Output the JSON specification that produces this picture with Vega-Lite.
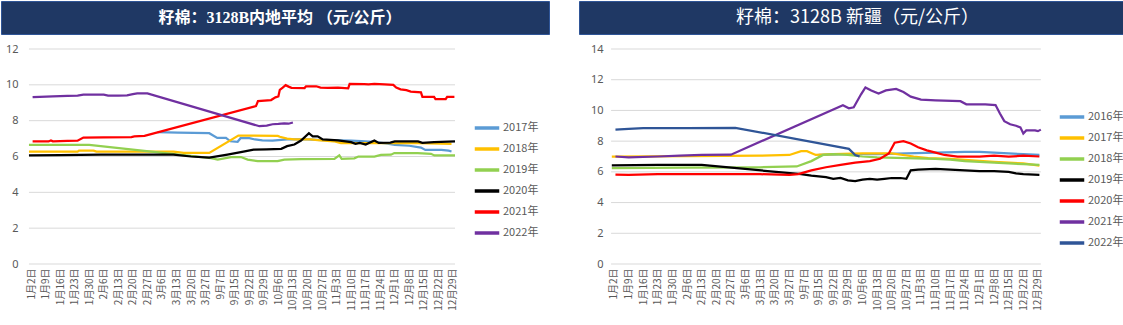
{
  "$schema": "https://vega.github.io/schema/vega-lite/v6.json",
  "padding": 0,
  "background": "white",
  "config": {
    "view": {"stroke": null},
    "font": "Noto Sans",
    "axisX": {"labelAngle": -90, "grid": false, "domain": false, "ticks": false, "labelFontSize": 10, "labelColor": "#595959", "labelFont": "Noto Sans CJK SC", "labelPadding": 4, "title": null, "labelOverlap": false},
    "axisY": {"grid": false, "domain": false, "ticks": false, "labelFontSize": 11, "labelColor": "#595959", "title": null, "labelAlign": "right", "minExtent": 0, "maxExtent": 0},
    "legend": {"title": null, "orient": "none", "padding": 0, "symbolType": "stroke", "symbolStrokeWidth": 3.5, "symbolSize": 600, "rowPadding": -3.5, "labelFontSize": 11, "labelColor": "#595959", "labelFont": "Noto Sans CJK SC", "labelOffset": 2}
  },
  "datasets": {
    "left": [
      {"s":"2017年","t":8.7,"v":7.36},{"s":"2017年","t":10.1,"v":7.33},{"s":"2017年","t":12.25,"v":7.3},{"s":"2017年","t":12.8,"v":7.04},{"s":"2017年","t":13.4,"v":7.04},{"s":"2017年","t":13.7,"v":6.85},{"s":"2017年","t":14.2,"v":6.82},{"s":"2017年","t":14.4,"v":7.02},{"s":"2017年","t":15.0,"v":7.02},{"s":"2017年","t":15.4,"v":6.95},{"s":"2017年","t":15.9,"v":6.9},{"s":"2017年","t":16.6,"v":6.88},{"s":"2017年","t":17.2,"v":6.93},{"s":"2017年","t":17.6,"v":6.95},{"s":"2017年","t":19,"v":6.95},{"s":"2017年","t":20,"v":6.92},{"s":"2017年","t":21,"v":6.9},{"s":"2017年","t":22,"v":6.88},{"s":"2017年","t":22.7,"v":6.86},{"s":"2017年","t":23.5,"v":6.82},{"s":"2017年","t":24.5,"v":6.72},{"s":"2017年","t":25,"v":6.65},{"s":"2017年","t":26,"v":6.6},{"s":"2017年","t":26.8,"v":6.5},{"s":"2017年","t":27.1,"v":6.37},{"s":"2017年","t":28.2,"v":6.37},{"s":"2017年","t":28.7,"v":6.33},{"s":"2017年","t":28.9,"v":6.28},
      {"s":"2018年","t":-0.14,"v":6.27},{"s":"2018年","t":3.2,"v":6.27},{"s":"2018年","t":3.3,"v":6.33},{"s":"2018年","t":4.3,"v":6.33},{"s":"2018年","t":4.5,"v":6.27},{"s":"2018年","t":9.8,"v":6.27},{"s":"2018年","t":10.5,"v":6.2},{"s":"2018年","t":12.25,"v":6.2},{"s":"2018年","t":14.25,"v":7.17},{"s":"2018年","t":16.96,"v":7.15},{"s":"2018年","t":17.1,"v":7.1},{"s":"2018年","t":17.6,"v":7.0},{"s":"2018年","t":18.1,"v":6.95},{"s":"2018年","t":19.2,"v":6.95},{"s":"2018年","t":19.7,"v":6.92},{"s":"2018年","t":20.8,"v":6.85},{"s":"2018年","t":21.3,"v":6.75},{"s":"2018年","t":26.6,"v":6.75},{"s":"2018年","t":28.9,"v":6.7},
      {"s":"2019年","t":-0.14,"v":6.65},{"s":"2019年","t":4.0,"v":6.65},{"s":"2019年","t":12.37,"v":5.91},{"s":"2019年","t":12.83,"v":5.83},{"s":"2019年","t":13.75,"v":5.97},{"s":"2019年","t":14.43,"v":5.97},{"s":"2019年","t":14.89,"v":5.83},{"s":"2019年","t":15.58,"v":5.74},{"s":"2019年","t":16.95,"v":5.74},{"s":"2019年","t":17.41,"v":5.83},{"s":"2019年","t":18.56,"v":5.85},{"s":"2019年","t":20.85,"v":5.87},{"s":"2019年","t":21.19,"v":6.06},{"s":"2019年","t":21.35,"v":5.87},{"s":"2019年","t":22.22,"v":5.9},{"s":"2019年","t":22.5,"v":6.0},{"s":"2019年","t":23.6,"v":6.0},{"s":"2019年","t":24.05,"v":6.09},{"s":"2019年","t":24.74,"v":6.1},{"s":"2019年","t":24.97,"v":6.19},{"s":"2019年","t":26.57,"v":6.19},{"s":"2019年","t":27.49,"v":6.15},{"s":"2019年","t":27.72,"v":6.06},{"s":"2019年","t":29.14,"v":6.06},
      {"s":"2020年","t":-0.14,"v":6.06},{"s":"2020年","t":2,"v":6.08},{"s":"2020年","t":4.8,"v":6.1},{"s":"2020年","t":7,"v":6.1},{"s":"2020年","t":9.8,"v":6.1},{"s":"2020年","t":11,"v":6.0},{"s":"2020年","t":12.25,"v":5.94},{"s":"2020年","t":13.5,"v":6.11},{"s":"2020年","t":14.6,"v":6.27},{"s":"2020年","t":15.3,"v":6.38},{"s":"2020年","t":16.2,"v":6.4},{"s":"2020年","t":17.2,"v":6.43},{"s":"2020年","t":17.6,"v":6.58},{"s":"2020年","t":18.1,"v":6.67},{"s":"2020年","t":18.56,"v":6.89},{"s":"2020年","t":19.1,"v":7.3},{"s":"2020年","t":19.36,"v":7.13},{"s":"2020年","t":19.7,"v":7.13},{"s":"2020年","t":20.05,"v":6.95},{"s":"2020年","t":21.1,"v":6.9},{"s":"2020年","t":22.0,"v":6.8},{"s":"2020年","t":22.3,"v":6.71},{"s":"2020年","t":22.6,"v":6.76},{"s":"2020年","t":23.0,"v":6.67},{"s":"2020年","t":23.6,"v":6.89},{"s":"2020年","t":23.9,"v":6.76},{"s":"2020年","t":24.7,"v":6.77},{"s":"2020年","t":25.0,"v":6.84},{"s":"2020年","t":26.6,"v":6.84},{"s":"2020年","t":26.9,"v":6.76},{"s":"2020年","t":27.7,"v":6.8},{"s":"2020年","t":29.14,"v":6.84},
      {"s":"2021年","t":0.11,"v":6.84},{"s":"2021年","t":1.2,"v":6.84},{"s":"2021年","t":1.37,"v":6.9},{"s":"2021年","t":1.5,"v":6.85},{"s":"2021年","t":2.5,"v":6.87},{"s":"2021年","t":3.2,"v":6.88},{"s":"2021年","t":3.6,"v":7.06},{"s":"2021年","t":5.0,"v":7.07},{"s":"2021年","t":6.9,"v":7.08},{"s":"2021年","t":7.1,"v":7.12},{"s":"2021年","t":7.8,"v":7.15},{"s":"2021年","t":15.46,"v":8.81},{"s":"2021年","t":15.6,"v":9.09},{"s":"2021年","t":16.5,"v":9.15},{"s":"2021年","t":16.8,"v":9.3},{"s":"2021年","t":17.0,"v":9.35},{"s":"2021年","t":17.1,"v":9.72},{"s":"2021年","t":17.3,"v":9.85},{"s":"2021年","t":17.5,"v":9.98},{"s":"2021年","t":17.7,"v":9.9},{"s":"2021年","t":17.9,"v":9.83},{"s":"2021年","t":18.8,"v":9.82},{"s":"2021年","t":18.9,"v":9.92},{"s":"2021年","t":19.6,"v":9.92},{"s":"2021年","t":19.9,"v":9.85},{"s":"2021年","t":20.4,"v":9.83},{"s":"2021年","t":21.1,"v":9.84},{"s":"2021年","t":21.8,"v":9.8},{"s":"2021年","t":21.9,"v":10.05},{"s":"2021年","t":22.9,"v":10.04},{"s":"2021年","t":23.2,"v":10.02},{"s":"2021年","t":23.6,"v":10.05},{"s":"2021年","t":24.3,"v":10.02},{"s":"2021年","t":24.9,"v":10.0},{"s":"2021年","t":25.1,"v":9.85},{"s":"2021年","t":25.4,"v":9.75},{"s":"2021年","t":25.8,"v":9.7},{"s":"2021年","t":26.1,"v":9.62},{"s":"2021年","t":26.8,"v":9.58},{"s":"2021年","t":26.9,"v":9.33},{"s":"2021年","t":27.7,"v":9.33},{"s":"2021年","t":27.8,"v":9.2},{"s":"2021年","t":28.5,"v":9.2},{"s":"2021年","t":28.6,"v":9.33},{"s":"2021年","t":29.1,"v":9.33},
      {"s":"2022年","t":0.11,"v":9.31},{"s":"2022年","t":0.6,"v":9.33},{"s":"2022年","t":1.5,"v":9.36},{"s":"2022年","t":2.5,"v":9.38},{"s":"2022年","t":3.2,"v":9.4},{"s":"2022年","t":3.6,"v":9.45},{"s":"2022年","t":4.5,"v":9.46},{"s":"2022年","t":5.0,"v":9.45},{"s":"2022年","t":5.3,"v":9.4},{"s":"2022年","t":6.0,"v":9.4},{"s":"2022年","t":6.6,"v":9.41},{"s":"2022年","t":7.0,"v":9.48},{"s":"2022年","t":7.3,"v":9.52},{"s":"2022年","t":8.0,"v":9.52},{"s":"2022年","t":15.7,"v":7.69},{"s":"2022年","t":16.2,"v":7.72},{"s":"2022年","t":16.6,"v":7.8},{"s":"2022年","t":17.0,"v":7.82},{"s":"2022年","t":17.4,"v":7.85},{"s":"2022年","t":17.7,"v":7.83},{"s":"2022年","t":18.0,"v":7.9}
    ],
    "right": [
      {"s":"2016年","t":14.0,"v":7.1},{"s":"2016年","t":16,"v":7.15},{"s":"2016年","t":18,"v":7.15},{"s":"2016年","t":20,"v":7.2},{"s":"2016年","t":22,"v":7.25},{"s":"2016年","t":24,"v":7.3},{"s":"2016年","t":25,"v":7.3},{"s":"2016年","t":26,"v":7.25},{"s":"2016年","t":27,"v":7.2},{"s":"2016年","t":28,"v":7.15},{"s":"2016年","t":29.1,"v":7.1},
      {"s":"2017年","t":-0.15,"v":7.0},{"s":"2017年","t":5,"v":7.02},{"s":"2017年","t":10,"v":7.05},{"s":"2017年","t":12,"v":7.1},{"s":"2017年","t":12.8,"v":7.35},{"s":"2017年","t":13.2,"v":7.35},{"s":"2017年","t":13.8,"v":7.1},{"s":"2017年","t":15,"v":7.15},{"s":"2017年","t":17,"v":7.2},{"s":"2017年","t":19,"v":7.2},{"s":"2017年","t":20.5,"v":7.0},{"s":"2017年","t":21.5,"v":6.9},{"s":"2017年","t":23,"v":6.85},{"s":"2017年","t":24.5,"v":6.75},{"s":"2017年","t":26,"v":6.65},{"s":"2017年","t":27,"v":6.6},{"s":"2017年","t":28,"v":6.55},{"s":"2017年","t":29.1,"v":6.4},
      {"s":"2018年","t":-0.15,"v":6.25},{"s":"2018年","t":5,"v":6.28},{"s":"2018年","t":10,"v":6.3},{"s":"2018年","t":12.5,"v":6.35},{"s":"2018年","t":13.5,"v":6.7},{"s":"2018年","t":14.3,"v":7.1},{"s":"2018年","t":15,"v":7.15},{"s":"2018年","t":16,"v":7.1},{"s":"2018年","t":17,"v":7.0},{"s":"2018年","t":18,"v":6.95},{"s":"2018年","t":20,"v":6.9},{"s":"2018年","t":22,"v":6.85},{"s":"2018年","t":23,"v":6.8},{"s":"2018年","t":24,"v":6.7},{"s":"2018年","t":25,"v":6.65},{"s":"2018年","t":26,"v":6.6},{"s":"2018年","t":27,"v":6.55},{"s":"2018年","t":28,"v":6.5},{"s":"2018年","t":29.1,"v":6.45},
      {"s":"2019年","t":-0.15,"v":6.42},{"s":"2019年","t":3,"v":6.45},{"s":"2019年","t":6,"v":6.45},{"s":"2019年","t":12.8,"v":5.85},{"s":"2019年","t":13.5,"v":5.75},{"s":"2019年","t":14.5,"v":5.65},{"s":"2019年","t":15,"v":5.55},{"s":"2019年","t":15.5,"v":5.6},{"s":"2019年","t":16,"v":5.45},{"s":"2019年","t":16.5,"v":5.4},{"s":"2019年","t":17,"v":5.5},{"s":"2019年","t":17.5,"v":5.55},{"s":"2019年","t":18,"v":5.5},{"s":"2019年","t":18.5,"v":5.55},{"s":"2019年","t":19,"v":5.6},{"s":"2019年","t":19.6,"v":5.6},{"s":"2019年","t":20,"v":5.55},{"s":"2019年","t":20.3,"v":6.1},{"s":"2019年","t":20.8,"v":6.15},{"s":"2019年","t":22,"v":6.2},{"s":"2019年","t":23,"v":6.15},{"s":"2019年","t":24,"v":6.1},{"s":"2019年","t":25,"v":6.05},{"s":"2019年","t":26,"v":6.05},{"s":"2019年","t":27,"v":6.0},{"s":"2019年","t":27.5,"v":5.9},{"s":"2019年","t":28,"v":5.85},{"s":"2019年","t":29.1,"v":5.8},
      {"s":"2020年","t":0.1,"v":5.82},{"s":"2020年","t":1,"v":5.8},{"s":"2020年","t":3,"v":5.85},{"s":"2020年","t":6,"v":5.85},{"s":"2020年","t":10,"v":5.85},{"s":"2020年","t":12,"v":5.8},{"s":"2020年","t":12.6,"v":5.85},{"s":"2020年","t":13.5,"v":6.1},{"s":"2020年","t":14.5,"v":6.3},{"s":"2020年","t":15.5,"v":6.45},{"s":"2020年","t":16.5,"v":6.6},{"s":"2020年","t":17.5,"v":6.7},{"s":"2020年","t":18.2,"v":6.85},{"s":"2020年","t":18.8,"v":7.2},{"s":"2020年","t":19.2,"v":7.9},{"s":"2020年","t":19.8,"v":8.0},{"s":"2020年","t":20.3,"v":7.85},{"s":"2020年","t":20.8,"v":7.6},{"s":"2020年","t":21.4,"v":7.4},{"s":"2020年","t":22,"v":7.25},{"s":"2020年","t":22.6,"v":7.1},{"s":"2020年","t":23.5,"v":7.0},{"s":"2020年","t":25,"v":7.0},{"s":"2020年","t":26,"v":7.05},{"s":"2020年","t":27,"v":7.0},{"s":"2020年","t":28,"v":7.05},{"s":"2020年","t":29.1,"v":7.0},
      {"s":"2021年","t":0.1,"v":7.0},{"s":"2021年","t":1,"v":6.95},{"s":"2021年","t":3,"v":7.0},{"s":"2021年","t":4.5,"v":7.05},{"s":"2021年","t":6,"v":7.1},{"s":"2021年","t":8,"v":7.12},{"s":"2021年","t":15.66,"v":10.34},{"s":"2021年","t":16.07,"v":10.14},{"s":"2021年","t":16.4,"v":10.2},{"s":"2021年","t":16.9,"v":11.05},{"s":"2021年","t":17.2,"v":11.5},{"s":"2021年","t":17.6,"v":11.3},{"s":"2021年","t":18.1,"v":11.1},{"s":"2021年","t":18.6,"v":11.3},{"s":"2021年","t":19.3,"v":11.4},{"s":"2021年","t":19.8,"v":11.2},{"s":"2021年","t":20.3,"v":10.9},{"s":"2021年","t":21,"v":10.7},{"s":"2021年","t":22,"v":10.66},{"s":"2021年","t":23.7,"v":10.6},{"s":"2021年","t":24.1,"v":10.4},{"s":"2021年","t":25.4,"v":10.4},{"s":"2021年","t":26.1,"v":10.35},{"s":"2021年","t":26.4,"v":9.8},{"s":"2021年","t":26.7,"v":9.3},{"s":"2021年","t":27.1,"v":9.1},{"s":"2021年","t":27.5,"v":9.0},{"s":"2021年","t":27.8,"v":8.9},{"s":"2021年","t":28.0,"v":8.5},{"s":"2021年","t":28.2,"v":8.7},{"s":"2021年","t":28.8,"v":8.7},{"s":"2021年","t":29.0,"v":8.65},{"s":"2021年","t":29.2,"v":8.75},
      {"s":"2022年","t":0.1,"v":8.75},{"s":"2022年","t":1,"v":8.8},{"s":"2022年","t":2,"v":8.85},{"s":"2022年","t":5,"v":8.85},{"s":"2022年","t":8.3,"v":8.87},{"s":"2022年","t":16.07,"v":7.5},{"s":"2022年","t":16.5,"v":7.1},{"s":"2022年","t":16.8,"v":7.0}
    ]
  },
  "spacing": 8,
  "vconcat": [
    {
      "bounds": "flush",
      "spacing": 30,
      "hconcat": [
        {
          "width": 548, "height": 33,
          "view": {"fill": "#1F3864", "stroke": "#2F5597"},
          "data": {"values": [{"title": "籽棉：3128B内地平均 （元/公斤）"}]},
          "mark": {"type": "text", "color": "white", "fontSize": 16, "font": "Liberation Serif, Noto Sans CJK SC", "fontWeight": "bold", "dx": 5},
          "encoding": {"text": {"field": "title", "type": "nominal"}}
        },
        {
          "width": 545, "height": 33,
          "view": {"fill": "#1F3864", "stroke": "#2F5597"},
          "data": {"values": [{"title": "籽棉：3128B 新疆（元/公斤）"}]},
          "mark": {"type": "text", "color": "white", "fontSize": 18, "font": "Noto Sans CJK SC", "fontWeight": "normal", "dx": 6},
          "encoding": {"text": {"field": "title", "type": "nominal"}}
        }
      ]
    },
    {
      "bounds": "flush",
      "spacing": 124,
      "resolve": {"scale": {"color": "independent"}, "legend": {"color": "independent"}},
      "hconcat": [
        {
          "width": 454, "height": 215,
          "layer": [
            {
              "data": {"values": [{"g":0},{"g":2},{"g":4},{"g":6},{"g":8},{"g":10},{"g":12}]},
              "mark": {"type": "rule", "color": "#D9D9D9", "strokeWidth": 1},
              "encoding": {
                "y": {"field": "g", "type": "quantitative",
                  "axis": {"values": [0,2,4,6,8,10,12], "labelPadding": -17}},
                "x": {"datum": -0.14, "type": "quantitative",
                  "axis": {"values": [0,1,2,3,4,5,6,7,8,9,10,11,12,13,14,15,16,17,18,19,20,21,22,23,24,25,26,27,28,29],
                    "labelExpr": "['1月2日','1月9日','1月16日','1月23日','1月30日','2月6日','2月13日','2月20日','2月27日','3月6日','3月13日','3月20日','3月27日','9月7日','9月15日','9月22日','9月29日','10月6日','10月13日','10月20日','10月27日','11月3日','11月10日','11月17日','11月24日','12月1日','12月8日','12月15日','12月22日','12月29日'][datum.value]"}},
                "x2": {"datum": 29.14}
              }
            },
            {
              "data": {"name": "left"},
              "mark": {"type": "line", "strokeWidth": 2.25},
              "encoding": {
                "x": {"field": "t", "type": "quantitative",
                  "scale": {"domain": [-2.062, 29.14], "nice": false, "zero": false},
                  "axis": {"values": [0,1,2,3,4,5,6,7,8,9,10,11,12,13,14,15,16,17,18,19,20,21,22,23,24,25,26,27,28,29],
                    "labelExpr": "['1月2日','1月9日','1月16日','1月23日','1月30日','2月6日','2月13日','2月20日','2月27日','3月6日','3月13日','3月20日','3月27日','9月7日','9月15日','9月22日','9月29日','10月6日','10月13日','10月20日','10月27日','11月3日','11月10日','11月17日','11月24日','12月1日','12月8日','12月15日','12月22日','12月29日'][datum.value]"}},
                "y": {"field": "v", "type": "quantitative",
                  "scale": {"domain": [0, 12], "nice": false},
                  "axis": {"values": [0,2,4,6,8,10,12], "labelPadding": -17}},
                "color": {"field": "s", "type": "nominal",
                  "scale": {"domain": ["2017年","2018年","2019年","2020年","2021年","2022年"], "range": ["#5B9BD5","#FFC000","#92D050","#000000","#FF0000","#7030A0"]},
                  "legend": {"legendX": 472, "legendY": 65}}
              }
            }
          ]
        },
        {
          "width": 462, "height": 215,
          "layer": [
            {
              "data": {"values": [{"g":0},{"g":2},{"g":4},{"g":6},{"g":8},{"g":10},{"g":12},{"g":14}]},
              "mark": {"type": "rule", "color": "#D9D9D9", "strokeWidth": 1},
              "encoding": {
                "y": {"field": "g", "type": "quantitative",
                  "axis": {"values": [0,2,4,6,8,10,12,14], "labelPadding": -24}},
                "x": {"datum": -0.2, "type": "quantitative",
                  "axis": {"values": [0,1,2,3,4,5,6,7,8,9,10,11,12,13,14,15,16,17,18,19,20,21,22,23,24,25,26,27,28,29],
                    "labelExpr": "['1月2日','1月9日','1月16日','1月23日','1月30日','2月6日','2月13日','2月20日','2月27日','3月6日','3月13日','3月20日','3月27日','9月7日','9月15日','9月22日','9月29日','10月6日','10月13日','10月20日','10月27日','11月3日','11月10日','11月17日','11月24日','12月1日','12月8日','12月15日','12月22日','12月29日'][datum.value]"}},
                "x2": {"datum": 29.2}
              }
            },
            {
              "data": {"name": "right"},
              "mark": {"type": "line", "strokeWidth": 2.25},
              "encoding": {
                "x": {"field": "t", "type": "quantitative",
                  "scale": {"domain": [-2.394, 29.21], "nice": false, "zero": false},
                  "axis": {"values": [0,1,2,3,4,5,6,7,8,9,10,11,12,13,14,15,16,17,18,19,20,21,22,23,24,25,26,27,28,29],
                    "labelExpr": "['1月2日','1月9日','1月16日','1月23日','1月30日','2月6日','2月13日','2月20日','2月27日','3月6日','3月13日','3月20日','3月27日','9月7日','9月15日','9月22日','9月29日','10月6日','10月13日','10月20日','10月27日','11月3日','11月10日','11月17日','11月24日','12月1日','12月8日','12月15日','12月22日','12月29日'][datum.value]"}},
                "y": {"field": "v", "type": "quantitative",
                  "scale": {"domain": [0, 14], "nice": false},
                  "axis": {"values": [0,2,4,6,8,10,12,14], "labelPadding": -24}},
                "color": {"field": "s", "type": "nominal",
                  "scale": {"domain": ["2016年","2017年","2018年","2019年","2020年","2021年","2022年"], "range": ["#5B9BD5","#FFC000","#92D050","#000000","#FF0000","#7030A0","#2F5597"]},
                  "legend": {"legendX": 479, "legendY": 54}}
              }
            }
          ]
        }
      ]
    }
  ]
}
